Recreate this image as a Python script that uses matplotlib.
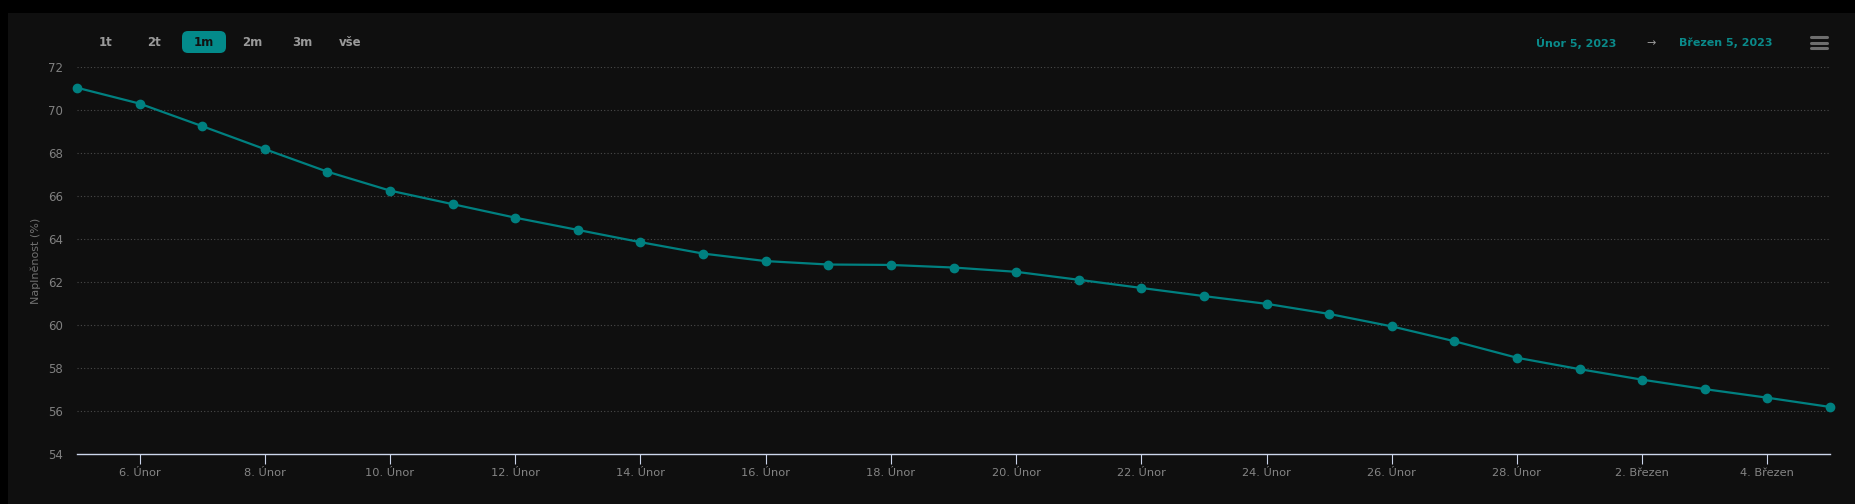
import matplotlib
matplotlib.use("Agg")
import matplotlib.pyplot as plt
from matplotlib.patches import Rectangle, FancyBboxPatch
from matplotlib.transforms import IdentityTransform
import pandas as pd

# ---- data ----
dates = pd.date_range("2023-02-05", "2023-03-05", freq="D")
values = [71.05, 70.31, 69.26, 68.19, 67.14, 66.26, 65.63, 65.00, 64.43, 63.86,
          63.33, 62.98, 62.82, 62.80, 62.68, 62.48, 62.11, 61.73, 61.35, 60.99,
          60.52, 59.94, 59.25, 58.48, 57.95, 57.46, 57.02, 56.62, 56.19]
tick_dates = pd.to_datetime(["2023-02-06", "2023-02-08", "2023-02-10", "2023-02-12",
                             "2023-02-14", "2023-02-16", "2023-02-18", "2023-02-20",
                             "2023-02-22", "2023-02-24", "2023-02-26", "2023-02-28",
                             "2023-03-02", "2023-03-04"])
month_names = {2: "Únor", 3: "Březen"}
tick_labels = [f"{d.day}. {month_names[d.month]}" for d in tick_dates]
y_ticks = [54, 56, 58, 60, 62, 64, 66, 68, 70, 72]
range_buttons = ["1t", "2t", "1m", "2m", "3m", "vše"]
selected_button = "1m"
date_from = "Únor 5, 2023"
date_to = "Březen 5, 2023"
y_label = "Naplněnost (%)"

W, H = 1856, 504
plt.rcParams["font.family"] = ["DejaVu Sans"]
fig = plt.figure(figsize=(W / 100, H / 100), dpi=100, facecolor="#000000")

BG = "#0f0f0f"
TEAL = "#008080"

# chart background panel (black border on left and top)
fig.patches.append(Rectangle((8 / W, 0), 1 - 8 / W, 1 - 13 / H, transform=fig.transFigure,
                             facecolor=BG, edgecolor="none", zorder=-5))

left, right = 77 / W, 1830 / W
bottom, top = (H - 454) / H, (H - 67.3) / H
ax = fig.add_axes([left, bottom, right - left, top - bottom])
ax.set_zorder(3)
ax.set_facecolor("none")

ax.plot(dates, values, color=TEAL, lw=1.6, marker="o", markersize=6,
        markerfacecolor=TEAL, markeredgecolor=TEAL, zorder=3, clip_on=False)

ax.set_xlim(dates[0], dates[-1])
ax.set_ylim(54, 72)
ax.set_yticks(y_ticks)
ax.set_yticklabels([str(v) for v in y_ticks])
ax.set_xticks(tick_dates)
ax.set_xticklabels(tick_labels)

for v in y_ticks[1:]:
    ax.axhline(v, color="#4a4a4a", lw=0.8, ls=(0, (1, 2)), zorder=1)

for s in ["top", "right", "left"]:
    ax.spines[s].set_visible(False)
ax.spines["bottom"].set_color("#ccd6eb")
ax.spines["bottom"].set_linewidth(1.0)

ax.tick_params(axis="y", length=0, pad=10, labelsize=8.5, labelcolor="#808080")
ax.tick_params(axis="x", length=7, width=0.8, color="#ccd6eb", pad=3,
               labelsize=8.2, labelcolor="#858585")

ax.set_ylabel(y_label, color="#707070", fontsize=8)
ax.yaxis.set_label_coords((41 - 77) / (1830 - 77), 0.5)

# range selector buttons
btn_x = [106, 154, 204, 252, 302, 350]
for lbl, bx in zip(range_buttons, btn_x):
    if lbl == selected_button:
        fig.patches.append(FancyBboxPatch((bx - 22, H - 53), 44, 22,
                                          boxstyle="round,pad=0,rounding_size=6",
                                          transform=IdentityTransform(),
                                          facecolor="#038a8a", edgecolor="none", zorder=1))
        col = "#111111"
    else:
        col = "#9a9a9a"
    fig.text(bx / W, (H - 43) / H, lbl, ha="center", va="center", fontsize=8.5,
             fontweight="bold", color=col, zorder=2)

# date range display
fig.text(1576 / W, (H - 43) / H, date_from, ha="center", va="center", fontsize=8,
         fontweight="bold", color="#0a8a8a")
fig.text(1651 / W, (H - 43) / H, "→", ha="center", va="center", fontsize=8,
         color="#9a9a9a")
fig.text(1726 / W, (H - 43) / H, date_to, ha="center", va="center", fontsize=8,
         fontweight="bold", color="#0a8a8a")

# menu icon
for yy in [37, 42.5, 48]:
    fig.add_artist(plt.Line2D([1811 / W, 1827 / W], [(H - yy) / H, (H - yy) / H],
                              transform=fig.transFigure, color="#6e6e6e", lw=2.2,
                              solid_capstyle="round"))

fig.savefig("out.png", dpi=100, facecolor=fig.get_facecolor())
